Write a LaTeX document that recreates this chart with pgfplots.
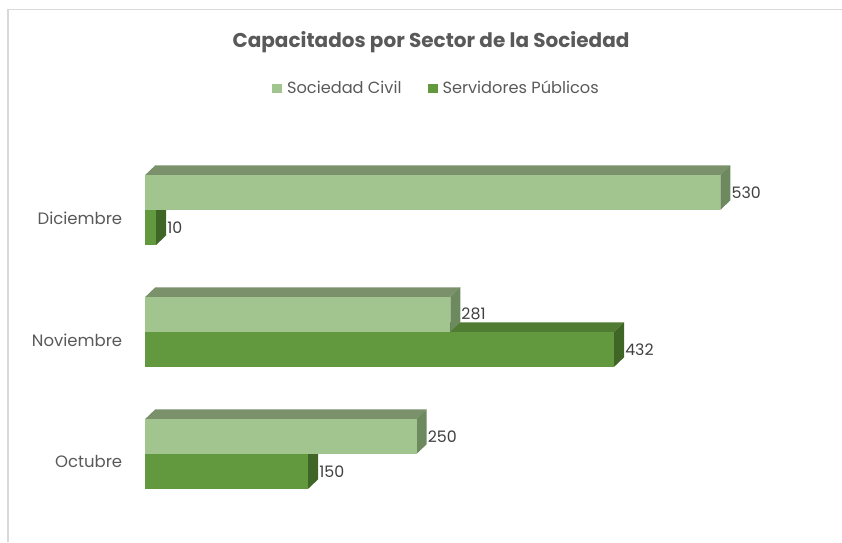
\documentclass[border=0pt]{standalone}
\usepackage{pgfplots}
\pgfplotsset{compat=1.18}
\usepackage{fontspec}
\setmainfont{Poppins}
\definecolor{civfront}{HTML}{A2C590}
\definecolor{civtop}{HTML}{7A916B}
\definecolor{civside}{HTML}{6D8A5E}
\definecolor{serfront}{HTML}{62993E}
\definecolor{sertop}{HTML}{4F7B32}
\definecolor{serside}{HTML}{3F6626}
\definecolor{txtgray}{HTML}{595959}
\definecolor{lblgray}{HTML}{404040}
\definecolor{bordergray}{HTML}{D9D9D9}
\def\dx{9.2}
\def\dy{0.078}
% #1 value, #2 bottom of front face, #3 top of front face, #4 front, #5 top, #6 side
\newcommand{\tdbar}[6]{%
  \pgfmathsetmacro\xb{#1+\dx}%
  \pgfmathsetmacro\yb{#3+\dy}%
  \pgfmathsetmacro\yc{#2+\dy}%
  \edef\tmp{%
    \noexpand\addplot[forget plot, fill=#5, draw=none] coordinates {(0,#3) (#1,#3) (\xb,\yb) (\dx,\yb)} -- cycle;
    \noexpand\addplot[forget plot, fill=#6, draw=none] coordinates {(#1,#2) (\xb,\yc) (\xb,\yb) (#1,#3)} -- cycle;
    \noexpand\addplot[forget plot, fill=#4, draw=none] coordinates {(0,#2) (#1,#2) (#1,#3) (0,#3)} -- cycle;
  }\tmp}
% data labels: #1 value, #2 bottom, #3 top
\newcommand{\tdlabel}[3]{%
  \pgfmathsetmacro\xb{#1+\dx}%
  \pgfmathsetmacro\ym{(#2+#3)/2}%
  \edef\tmp{%
    \noexpand\addplot[forget plot, draw=none, mark=none, nodes near coords, point meta=explicit symbolic] coordinates {(\xb,\ym) [#1]};
  }\tmp}
\begin{document}
\begin{tikzpicture}[x=1pt,y=1pt]
\useasboundingbox (0,0) rectangle (842,542);
\draw[bordergray, line width=1.5pt] (8,0) -- (8,532.5) -- (842,532.5);
\node[font=\bfseries\fontsize{20}{24}\selectfont, text=txtgray, anchor=base] at (431,494) {Capacitados por Sector de la Sociedad};
\begin{axis}[
  at={(134,5.3)}, anchor=south west,
  scale only axis, width=651pt, height=390.4pt,
  xmin=0, xmax=600, ymin=-0.6, ymax=2.6,
  clip=false,
  axis line style={draw=none},
  xtick=\empty,
  ytick={0,1,2},
  yticklabels={Octubre,Noviembre,Diciembre},
  major tick length=0pt,
  yticklabel style={font=\fontsize{16.5}{19}\selectfont, text=txtgray, anchor=east, inner sep=0pt, xshift=-23pt, yshift=0.5pt},
  every node near coord/.append style={anchor=west, inner sep=1pt, font=\fontsize{15.8}{18}\selectfont, text=lblgray},
  legend columns=2,
  legend style={at={(0.447,1.147)}, anchor=center, draw=none, fill=none,
    font=\fontsize{16.2}{19}\selectfont, text=txtgray,
    /tikz/every even column/.append style={column sep=24pt}},
  legend image code/.code={\path[draw=none,fill=none] (0pt,-5pt) rectangle (13pt,4pt); \fill[#1, draw=none] (0pt,-5pt) rectangle (10pt,4pt);},
]
\addlegendimage{civfront}
\addlegendentry{Sociedad Civil}
\addlegendimage{serfront}
\addlegendentry{Servidores Públicos}
% Servidores Publicos (lower bars) first
\tdbar{150}{-0.217}{0.07}{serfront}{sertop}{serside}
\tdbar{432}{0.783}{1.07}{serfront}{sertop}{serside}
\tdbar{10}{1.783}{2.07}{serfront}{sertop}{serside}
% Sociedad Civil (upper bars)
\tdbar{250}{0.07}{0.357}{civfront}{civtop}{civside}
\tdbar{281}{1.07}{1.357}{civfront}{civtop}{civside}
\tdbar{530}{2.07}{2.357}{civfront}{civtop}{civside}
% labels
\tdlabel{150}{-0.217}{0.07}
\tdlabel{432}{0.783}{1.07}
\tdlabel{10}{1.783}{2.07}
\tdlabel{250}{0.07}{0.357}
\tdlabel{281}{1.07}{1.357}
\tdlabel{530}{2.07}{2.357}
\end{axis}
\end{tikzpicture}
\end{document}
